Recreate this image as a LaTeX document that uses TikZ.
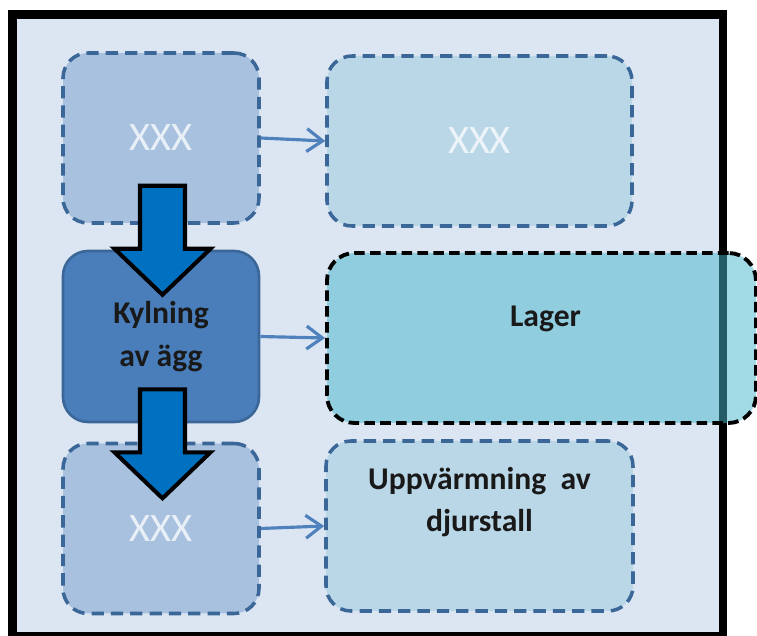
\documentclass[tikz,border=0pt]{standalone}
\usepackage{fontspec}
\setmainfont{Carlito}
\usetikzlibrary{shapes,arrows,arrows.meta,positioning}
\definecolor{bgblue}{RGB}{220,230,242}
\definecolor{boxblue}{RGB}{167,193,223}
\definecolor{paleblue}{RGB}{186,215,232}
\definecolor{darkblue}{RGB}{74,126,187}
\definecolor{edgeblue}{RGB}{59,102,152}
\definecolor{lineblue}{RGB}{79,129,189}
\definecolor{lagerteal}{RGB}{70,182,205}
\definecolor{arrowblue}{RGB}{0,112,192}

\begin{document}
\begin{tikzpicture}[
    dashbox/.style={draw=edgeblue, line width=2pt, dash pattern=on 7pt off 4pt, rounded corners=0.5cm, minimum height=3.4cm},
    xxxtext/.style={text=white, text opacity=0.75, font=\fontsize{23}{28}\selectfont},
    boldtext/.style={align=center, text=black!90, font=\bfseries\fontsize{18}{24}\selectfont},
    thinarrow/.style={draw=lineblue, line width=1.8pt, -{Straight Barb[length=9pt,width=13pt]}},
    blockarrow/.pic={
      \draw[fill=arrowblue, line width=2.3pt, line join=miter] (-0.45,0) -- (0.45,0) -- (0.45,-1.26) -- (0.96,-1.26)
      -- (0,-2.18) -- (-0.96,-1.26) -- (-0.45,-1.26) -- cycle;}
  ]
    \useasboundingbox (0,0) rectangle (15.14,12.72);

%frame
    \fill[bgblue] (0.25,-0.01) rectangle (14.46,12.43);
    \draw[line width=5pt] (0.25,-0.01) rectangle (14.46,12.43);

%boxes
    \node[dashbox, fill=boxblue, minimum width=3.92cm, xxxtext] (xxxa) at (3.22,9.96) {XXX};
    \node[dashbox, fill=paleblue, minimum width=6.1cm, xxxtext] (xxxb) at (9.59,9.90) {XXX};
    \node[fill=darkblue, draw=edgeblue, line width=1.5pt, rounded corners=0.5cm, minimum width=3.92cm, minimum height=3.42cm, boldtext] (kyl) at (3.22,5.99) {Kylning\\av ägg};
    \node[draw=black, line width=2.2pt, dash pattern=on 6pt off 3pt, rounded corners=0.55cm, fill=lagerteal, fill opacity=0.5, minimum width=8.58cm, minimum height=3.4cm] (lager) at (10.83,5.96) {};
    \node[dashbox, fill=boxblue, minimum width=3.92cm, xxxtext] (xxxc) at (3.22,2.15) {XXX};
    \node[dashbox, fill=paleblue, minimum width=6.14cm] (varme) at (9.59,2.2) {};

%texts
    \node[boldtext, anchor=north, inner sep=0pt, below=1.1cm of lager.north, xshift=0.08cm] (lagertext) {Lager};
    \node[boldtext, anchor=north, inner sep=0pt, below=0.56cm of varme.north] (varmetext) {Uppvärmning~ av\\djurstall};

%arrows
    \draw[thinarrow] (xxxa.east) -- (xxxb.west);
    \draw[thinarrow] (kyl.east) -- (lager.west);
    \draw[thinarrow] (xxxc.east) -- (varme.west);
    \pic at ([xshift=0.03cm,yshift=0.78cm]xxxa.south) {blockarrow};
    \pic at ([xshift=0.03cm,yshift=0.68cm]kyl.south) {blockarrow};

\end{tikzpicture}
\end{document}
